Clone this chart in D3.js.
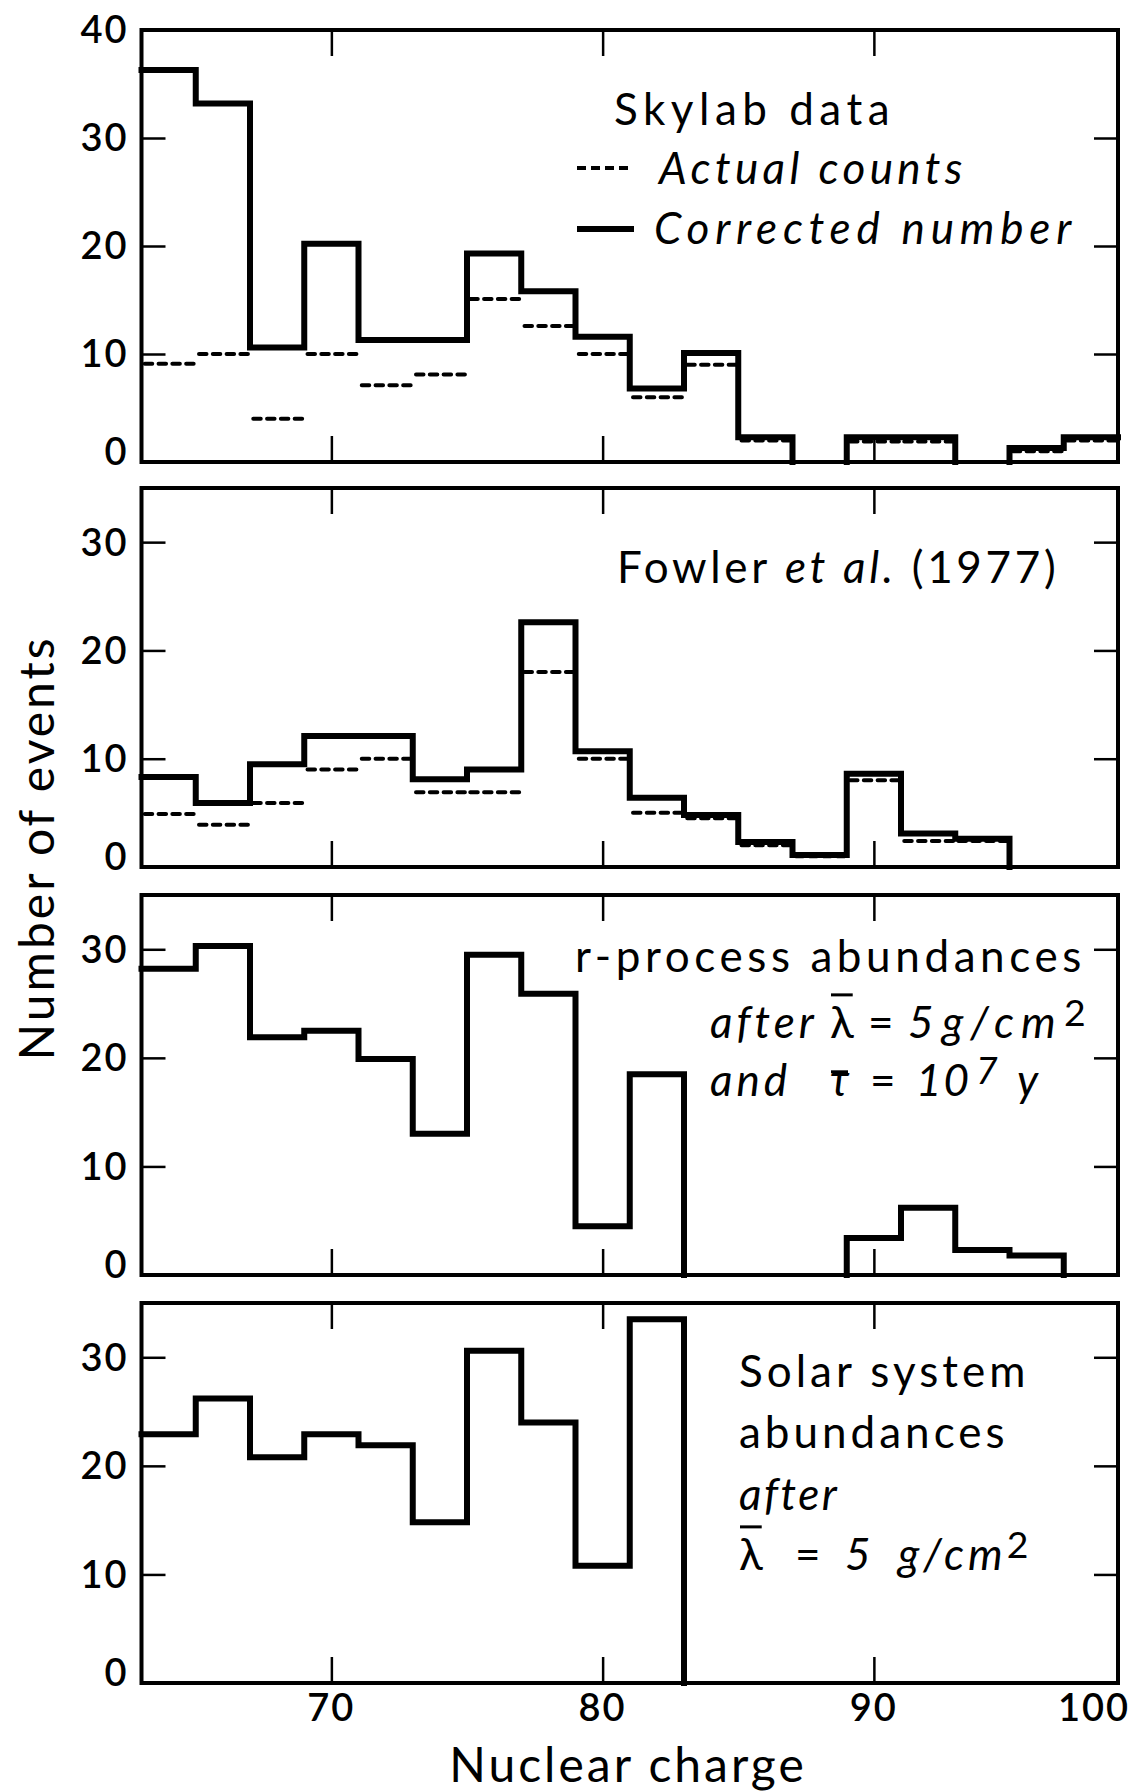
<!DOCTYPE html>
<html>
<head>
<meta charset="utf-8">
<script src="https://cdn.jsdelivr.net/npm/d3@7"></script>
<style>
  html, body { margin: 0; padding: 0; background: #fff; }
  svg { display: block; }
</style>
</head>
<body>
<svg id="chart" width="1136" height="1791"></svg>
<script>
// Nuclear-charge bins, two charge units wide, edges on odd charges 63 ... 99
const binEdges = [63, 65, 67, 69, 71, 73, 75, 77, 79, 81, 83, 85, 87, 89, 91, 93, 95, 97, 99];

// Skylab data: corrected number (solid) and actual counts (dashed)
const skylabCorrected = [36.3, 33.2, 10.6, 20.2, 11.3, 11.3, 19.3, 15.8, 11.6, 6.8, 10.1, 2.3, 0, 2.3, 2.3, 0, 1.3, 2.3];
const skylabActual    = [9.1, 10.0, 4.0, 10.0, 7.1, 8.1, 15.1, 12.6, 10.0, 6.0, 9.0, 2.0, 0, 1.9, 1.9, 0, 1.0, 2.0];

// Fowler et al. (1977): corrected (solid) and actual (dashed)
const fowlerCorrected = [8.3, 5.9, 9.5, 12.1, 12.1, 8.1, 9.0, 22.6, 10.7, 6.4, 4.8, 2.3, 1.1, 8.6, 3.1, 2.6, 0, 0];
const fowlerActual    = [4.9, 3.9, 5.9, 9.0, 10.0, 6.9, 6.9, 18.0, 10.0, 5.0, 4.5, 2.0, 1.0, 8.0, 2.4, 2.4, 0, 0];

// r-process abundances after propagation
const rProcess = [28.2, 30.3, 21.9, 22.5, 19.9, 13.0, 29.5, 25.9, 4.5, 18.5, 0, 0, 0, 3.4, 6.2, 2.3, 1.8, 0];

// Solar system abundances after propagation
const solarSystem = [22.9, 26.2, 20.8, 22.9, 21.9, 14.8, 30.6, 24.0, 10.8, 33.5, 0, 0, 0, 0, 0, 0, 0, 0];

// Tick values and labels
const xTicks = [70, 80, 90];
const xTickLabels = [70, 80, 90, 100];
const yTicksTop = [0, 10, 20, 30, 40];
const yTicks = [0, 10, 20, 30];

const FONT = "Lato, 'Noto Sans', 'DejaVu Sans', sans-serif";
const svg = d3.select("#chart");

const x = d3.scaleLinear()
  .domain([binEdges[0], binEdges[binEdges.length - 1]])
  .range([141.5, 1118]);

const panels = [
  { top: 30,   bottom: 462,  max: 40, ticks: yTicksTop, solid: skylabCorrected, dashed: skylabActual },
  { top: 488,  bottom: 867,  max: 35, ticks: yTicks,    solid: fowlerCorrected, dashed: fowlerActual },
  { top: 895,  bottom: 1275, max: 35, ticks: yTicks,    solid: rProcess },
  { top: 1303, bottom: 1683, max: 35, ticks: yTicks,    solid: solarSystem }
];

// Split a histogram into continuous step outlines; zero bins break the outline
function stepRuns(vals) {
  const out = [];
  let cur = null;
  vals.forEach((v, i) => {
    const x0 = binEdges[i], x1 = binEdges[i + 1];
    if (v > 0) {
      if (!cur) { cur = []; if (i > 0) cur.push([x0, 0]); }
      cur.push([x0, v], [x1, v]);
    } else if (cur) {
      cur.push([x0, 0]);
      out.push(cur);
      cur = null;
    }
  });
  if (cur) out.push(cur);
  return out;
}

const TICK_FONT = 38;

function styleTicks(sel) {
  sel.select(".domain").remove();
  sel.selectAll(".tick line").attr("stroke", "#000").attr("stroke-width", 2.5);
  sel.selectAll(".tick text")
    .attr("fill", "#000")
    .attr("font-family", FONT)
    .attr("font-weight", 600)
    .attr("letter-spacing", 2)
    .attr("font-size", TICK_FONT);
}

panels.forEach((p, k) => {
  const y = d3.scaleLinear().domain([0, p.max]).range([p.bottom, p.top]);
  const g = svg.append("g");
  const [xl, xr] = x.range();

  // left axis with labels, ticks pointing inward
  const left = g.append("g")
    .attr("transform", `translate(${xl},0)`)
    .call(d3.axisLeft(y).tickValues(p.ticks).tickSize(-24).tickPadding(13).tickFormat(d3.format("d")));
  styleTicks(left);
  left.selectAll(".tick text").attr("dy", d => d === 0 ? "0.06em" : "0.34em");

  // right axis: inward ticks only
  const right = g.append("g")
    .attr("transform", `translate(${xr},0)`)
    .call(d3.axisRight(y).tickValues(p.ticks.filter(t => t > 0 && t < p.max)).tickSize(-24).tickFormat(""));
  styleTicks(right);

  // top and bottom axes: inward ticks
  const top = g.append("g")
    .attr("transform", `translate(0,${p.top})`)
    .call(d3.axisTop(x).tickValues(xTicks).tickSize(-26).tickFormat(""));
  styleTicks(top);
  const bottom = g.append("g")
    .attr("transform", `translate(0,${p.bottom})`)
    .call(d3.axisBottom(x).tickValues(xTicks).tickSize(-26).tickFormat(""));
  styleTicks(bottom);

  // panel frame
  g.append("rect")
    .attr("x", xl).attr("y", p.top)
    .attr("width", xr - xl).attr("height", p.bottom - p.top)
    .attr("fill", "none").attr("stroke", "#000").attr("stroke-width", 4);

  // dashed histogram: horizontal segments per bin
  if (p.dashed) {
    const seg = d3.line().x(d => x(d[0])).y(d => y(d[1]));
    g.append("g").selectAll("path")
      .data(p.dashed.map((v, i) => ({ v, i })).filter(d => d.v > 0))
      .join("path")
      .attr("d", d => seg([[binEdges[d.i] + 0.12, d.v], [binEdges[d.i + 1] - 0.05, d.v]]))
      .attr("fill", "none")
      .attr("stroke", "#000")
      .attr("stroke-width", 4)
      .attr("stroke-linecap", "round")
      .attr("stroke-dasharray", "7.5,6.3");
  }

  // solid histogram outline
  const step = d3.line().x(d => x(d[0])).y(d => y(d[1]));
  g.append("g").selectAll("path")
    .data(stepRuns(p.solid))
    .join("path")
    .attr("d", step)
    .attr("fill", "none")
    .attr("stroke", "#000")
    .attr("stroke-width", 6)
    .attr("stroke-linejoin", "miter")
    .attr("stroke-linecap", "square");

  // x tick labels under the last panel
  if (k === panels.length - 1) {
    const xMax = x.domain()[1];
    g.append("g").selectAll("text")
      .data(xTickLabels)
      .join("text")
      .attr("x", d => d > xMax ? x(xMax) + 12 : x(d))
      .attr("y", p.bottom + 11)
      .attr("dy", "0.71em")
      .attr("text-anchor", d => d > xMax ? "end" : "middle")
      .attr("font-family", FONT)
      .attr("font-weight", 600)
      .attr("letter-spacing", 2)
      .attr("font-size", TICK_FONT)
      .attr("fill", "#000")
      .text(d => d);
  }
});

// Rich text lines: segments may be italic, superscript, placed at a given x,
// spaced differently, or carry a bar
function richText(xPos, yPos, segments, size, spacing = 4) {
  const t = svg.append("text")
    .attr("x", xPos).attr("y", yPos)
    .attr("font-family", FONT)
    .attr("font-size", size)
    .attr("letter-spacing", spacing)
    .attr("fill", "#000");
  segments.forEach(s => {
    const ts = t.append("tspan").text(s.t);
    if (s.i) ts.attr("font-style", "italic");
    if (s.x !== undefined) ts.attr("x", s.x);
    if (s.ls !== undefined) ts.attr("letter-spacing", s.ls);
    if (s.sup) ts.attr("font-size", size * 0.85).attr("dy", -size * 0.27);
    if (s.after) ts.attr("dy", size * 0.27);
  });
  // bars over symbols
  let idx = 0;
  const node = t.node();
  segments.forEach(s => {
    if (s.bar) {
      const e = node.getExtentOfChar(idx);
      svg.append("line")
        .attr("x1", e.x + 1).attr("x2", e.x + e.width - spacing - 1)
        .attr("y1", yPos - size * s.bar).attr("y2", yPos - size * s.bar)
        .attr("stroke", "#000").attr("stroke-width", 3);
    }
    idx += s.t.length;
  });
  return t;
}

const S = 44;
// Skylab legend
richText(614, 125, [{ t: "Skylab data" }], S, 5.5);
svg.append("line").attr("x1", 577).attr("x2", 632).attr("y1", 168).attr("y2", 168)
  .attr("stroke", "#000").attr("stroke-width", 4).attr("stroke-dasharray", "9,5");
richText(659, 184, [{ t: "Actual counts", i: true }], S, 4.4);
svg.append("line").attr("x1", 577).attr("x2", 634).attr("y1", 229).attr("y2", 229)
  .attr("stroke", "#000").attr("stroke-width", 6);
richText(654, 244, [{ t: "Corrected number", i: true }], S, 5.8);

// Fowler label
richText(617, 583, [{ t: "Fowler " }, { t: "et al.", i: true }, { t: " (1977)" }], S, 3.7);

// r-process label
richText(575, 972, [{ t: "r-process abundances" }], S, 4.6);
richText(710, 1038, [
  { t: "after", i: true }, { t: "λ", bar: 0.98, x: 830 }, { t: "=", x: 868 },
  { t: "5", i: true, x: 908 }, { t: "g/cm", i: true, x: 942, ls: 7 }, { t: "2", sup: true, x: 1064 }
], S);
richText(710, 1096, [
  { t: "and", i: true }, { t: "τ", i: true, bar: 0.55, x: 830 }, { t: "=", x: 870 },
  { t: "10", i: true, x: 916, ls: 2 }, { t: "7", i: true, sup: true, x: 976 }, { t: "y", i: true, after: true, x: 1017 }
], S);

// Solar system label
richText(739, 1387, [{ t: "Solar system" }], S);
richText(739, 1448, [{ t: "abundances" }], S);
richText(739, 1510, [{ t: "after", i: true }], S, 2.5);
richText(739, 1570, [
  { t: "λ", bar: 0.98 }, { t: "=", x: 795 }, { t: "5", i: true, x: 845 },
  { t: "g/cm", i: true, x: 898 }, { t: "2", sup: true }
], S);

// Axis titles
svg.append("text")
  .attr("transform", "translate(54,848) rotate(-90)")
  .attr("text-anchor", "middle")
  .attr("font-family", FONT).attr("font-size", 48).attr("letter-spacing", 3)
  .attr("fill", "#000")
  .text("Number of events");

svg.append("text")
  .attr("x", 628).attr("y", 1782)
  .attr("text-anchor", "middle")
  .attr("font-family", FONT).attr("font-size", 48).attr("letter-spacing", 3)
  .attr("fill", "#000")
  .text("Nuclear charge");
</script>
</body>
</html>
